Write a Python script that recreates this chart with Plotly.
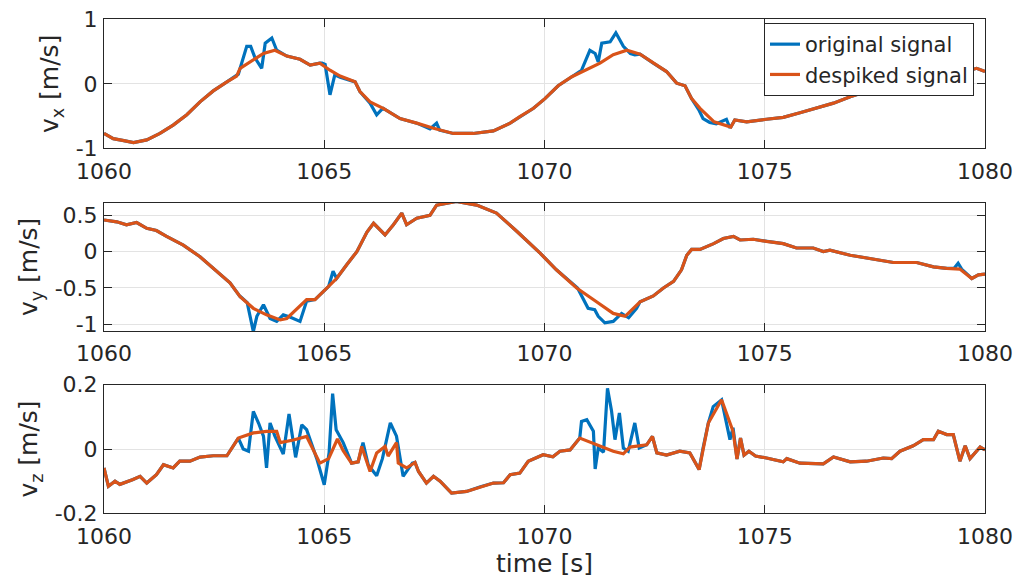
import plotly.graph_objects as go

# ---------------- data ----------------
t_vx = [1060.00, 1060.21, 1060.45, 1060.67, 1060.97, 1061.27, 1061.57, 1061.88, 1062.18, 1062.48,
        1062.79, 1063.01, 1063.09, 1063.31, 1063.62, 1063.88, 1064.15, 1064.45, 1064.68, 1064.90,
        1065.13, 1065.36, 1065.70, 1065.81, 1066.04, 1066.34, 1066.72, 1067.10, 1067.48, 1067.93,
        1068.38, 1068.84, 1069.22, 1069.44, 1069.75, 1070.01, 1070.31, 1070.62, 1070.88, 1071.26,
        1071.56, 1071.87, 1072.17, 1072.47, 1072.77, 1073.00, 1073.19, 1073.34, 1073.53, 1073.85,
        1074.23, 1074.32, 1074.59, 1075.04, 1075.42, 1075.80, 1076.18, 1076.56, 1076.94, 1077.31,
        1077.69, 1078.10, 1078.50, 1079.00, 1079.50, 1079.81, 1080.00]
vx_despiked = [-0.77, -0.85, -0.88, -0.91, -0.87, -0.77, -0.64, -0.48, -0.28, -0.11,
               0.03, 0.12, 0.24, 0.34, 0.47, 0.52, 0.43, 0.38, 0.29, 0.32,
               0.21, 0.12, 0.03, -0.12, -0.28, -0.38, -0.54, -0.61, -0.69, -0.77,
               -0.77, -0.73, -0.61, -0.51, -0.38, -0.23, -0.03, 0.11, 0.19, 0.32,
               0.45, 0.52, 0.46, 0.32, 0.19, 0.01, -0.03, -0.23, -0.38, -0.59,
               -0.67, -0.56, -0.59, -0.55, -0.52, -0.45, -0.38, -0.30, -0.20, -0.12,
               -0.02, 0.03, 0.08, 0.12, 0.18, 0.24, 0.19]
vx_spikes = [
    ([1063.05, 1063.24, 1063.33, 1063.43, 1063.58, 1063.66, 1063.81, 1063.92],
     [0.15, 0.58, 0.58, 0.40, 0.24, 0.63, 0.71, 0.52]),
    ([1064.95, 1065.02, 1065.13, 1065.24, 1065.36],
     [0.32, 0.30, -0.17, 0.14, 0.10]),
    ([1066.04, 1066.19, 1066.30], [-0.30, -0.48, -0.40]),
    ([1067.40, 1067.55, 1067.62], [-0.70, -0.61, -0.72]),
    ([1070.75, 1070.84, 1071.03, 1071.15, 1071.22, 1071.30, 1071.49, 1071.62, 1071.79, 1071.95, 1072.05],
     [0.17, 0.21, 0.52, 0.47, 0.34, 0.63, 0.65, 0.79, 0.58, 0.47, 0.45]),
    ([1073.50, 1073.60, 1073.75, 1073.90, 1074.13, 1074.20],
     [-0.40, -0.54, -0.60, -0.62, -0.55, -0.67]),
]

t_vy = [1060.00, 1060.29, 1060.51, 1060.74, 1060.97, 1061.19, 1061.42, 1061.80, 1062.18, 1062.56,
        1062.86, 1063.09, 1063.39, 1063.69, 1064.00, 1064.15, 1064.38, 1064.60, 1064.79, 1065.02,
        1065.28, 1065.51, 1065.74, 1065.97, 1066.12, 1066.38, 1066.57, 1066.76, 1066.87, 1067.10,
        1067.40, 1067.55, 1068.00, 1068.46, 1068.91, 1069.37, 1069.90, 1070.27, 1070.73, 1071.18,
        1071.56, 1071.83, 1072.17, 1072.47, 1072.70, 1072.93, 1073.11, 1073.23, 1073.34, 1073.53,
        1073.84, 1074.06, 1074.29, 1074.44, 1074.74, 1075.04, 1075.42, 1075.72, 1076.10, 1076.33,
        1076.48, 1076.94, 1077.31, 1077.92, 1078.45, 1078.83, 1079.13, 1079.43, 1079.70, 1079.85,
        1080.00]
vy_despiked = [0.435, 0.41, 0.37, 0.40, 0.32, 0.29, 0.21, 0.09, -0.07, -0.27,
               -0.43, -0.62, -0.78, -0.87, -0.94, -0.92, -0.78, -0.66, -0.66, -0.53,
               -0.37, -0.18, 0.00, 0.27, 0.39, 0.23, 0.37, 0.53, 0.37, 0.46,
               0.50, 0.64, 0.69, 0.64, 0.53, 0.28, -0.02, -0.25, -0.50, -0.69,
               -0.85, -0.89, -0.69, -0.61, -0.50, -0.41, -0.25, -0.05, 0.03, 0.03,
               0.11, 0.18, 0.21, 0.16, 0.17, 0.14, 0.11, 0.05, 0.05, 0.00,
               0.02, -0.05, -0.09, -0.15, -0.15, -0.21, -0.23, -0.24, -0.37, -0.32,
               -0.31]
vy_spikes = [
    ([1063.10, 1063.25, 1063.39, 1063.47, 1063.62, 1063.77, 1063.92, 1064.07, 1064.22, 1064.45, 1064.60],
     [-0.62, -0.70, -1.10, -0.89, -0.73, -0.92, -0.96, -0.87, -0.90, -0.96, -0.68]),
    ([1065.10, 1065.20, 1065.28], [-0.48, -0.27, -0.37]),
    ([1070.75, 1070.99, 1071.14, 1071.22, 1071.37, 1071.56, 1071.75, 1071.91, 1072.09, 1072.17],
     [-0.50, -0.78, -0.80, -0.89, -0.98, -0.96, -0.85, -0.91, -0.78, -0.69]),
    ([1079.30, 1079.39, 1079.47], [-0.23, -0.16, -0.24]),
]

t_vz = [1060.00, 1060.10, 1060.25, 1060.36, 1060.66, 1060.82, 1060.97, 1061.19, 1061.35, 1061.57,
        1061.72, 1061.95, 1062.18, 1062.48, 1062.79, 1062.90, 1063.05, 1063.39, 1063.69, 1063.92,
        1064.00, 1064.30, 1064.60, 1064.90, 1065.10, 1065.30, 1065.43, 1065.62, 1065.77, 1065.85,
        1066.04, 1066.19, 1066.38, 1066.45, 1066.64, 1066.68, 1066.87, 1067.06, 1067.14, 1067.32,
        1067.48, 1067.63, 1067.89, 1068.23, 1068.53, 1068.84, 1069.07, 1069.22, 1069.44, 1069.63,
        1069.97, 1070.19, 1070.35, 1070.58, 1070.80, 1071.18, 1071.56, 1071.79, 1071.94, 1072.32,
        1072.45, 1072.55, 1072.77, 1073.07, 1073.30, 1073.51, 1073.60, 1073.72, 1074.02, 1074.13,
        1074.28, 1074.37, 1074.45, 1074.53, 1074.64, 1074.79, 1075.04, 1075.42, 1075.50, 1075.80,
        1076.33, 1076.56, 1076.94, 1077.31, 1077.69, 1077.88, 1078.07, 1078.37, 1078.60, 1078.83,
        1078.94, 1079.13, 1079.28, 1079.43, 1079.55, 1079.66, 1079.89, 1080.00]
vz_despiked = [-0.059, -0.116, -0.100, -0.110, -0.095, -0.085, -0.106, -0.080, -0.049, -0.059,
               -0.038, -0.038, -0.025, -0.021, -0.021, 0.003, 0.034, 0.050, 0.055, 0.055,
               0.020, 0.028, 0.039, -0.044, -0.030, 0.031, -0.005, -0.044, -0.040, 0.008,
               -0.070, -0.012, 0.008, -0.022, 0.020, -0.044, -0.059, -0.042, -0.070, -0.106,
               -0.085, -0.100, -0.137, -0.132, -0.118, -0.106, -0.105, -0.080, -0.075, -0.038,
               -0.018, -0.024, -0.007, -0.003, 0.034, 0.013, -0.007, -0.015, 0.006, 0.013,
               0.039, -0.012, -0.019, -0.007, -0.012, -0.064, 0.003, 0.081, 0.153, 0.112,
               0.055, -0.031, 0.034, -0.019, -0.007, -0.022, -0.028, -0.040, -0.030, -0.044,
               -0.046, -0.025, -0.040, -0.038, -0.028, -0.030, -0.007, 0.010, 0.029, 0.029,
               0.055, 0.045, 0.045, -0.038, 0.010, -0.030, 0.006, -0.003]
vz_spikes = [
    ([1063.16, 1063.28, 1063.39, 1063.51, 1063.62, 1063.69, 1063.77, 1063.88, 1064.07, 1064.20,
      1064.35, 1064.49, 1064.60, 1064.83, 1065.00, 1065.11, 1065.19, 1065.27, 1065.43],
     [0.000, -0.007, 0.117, 0.080, 0.040, -0.059, 0.081, 0.040, -0.016, 0.109,
      -0.026, 0.075, 0.060, -0.030, -0.111, -0.012, 0.172, 0.060, 0.020]),
    ([1065.88, 1066.00, 1066.19, 1066.32, 1066.50, 1066.64, 1066.79, 1067.00],
     [0.020, -0.050, -0.083, -0.030, 0.081, 0.040, -0.085, -0.044]),
    ([1070.80, 1070.84, 1070.96, 1071.11, 1071.15, 1071.22, 1071.34, 1071.43, 1071.52, 1071.60,
      1071.70, 1071.79, 1071.90, 1072.05, 1072.15, 1072.32],
     [0.034, 0.086, 0.091, 0.055, -0.062, 0.003, -0.010, 0.189, 0.120, 0.029,
      0.112, 0.003, -0.007, 0.081, 0.003, 0.013]),
    ([1073.72, 1073.83, 1074.02, 1074.21, 1074.28, 1074.37],
     [0.081, 0.132, 0.153, 0.029, 0.066, -0.031]),
]

x_ticks = [1060, 1065, 1070, 1075, 1080]
vx_ticks, vx_ticktext = [-1, 0, 1], ["-1", "0", "1"]
vy_ticks, vy_ticktext = [-1, -0.5, 0, 0.5], ["-1", "-0.5", "0", "0.5"]
vz_ticks, vz_ticktext = [-0.2, 0, 0.2], ["-0.2", "0", "0.2"]
y_titles = ["v<sub>x</sub> [m/s]", "v<sub>y</sub> [m/s]", "v<sub>z</sub> [m/s]"]
y_ranges = [[-1, 1], [-1.092, 0.673], [-0.2, 0.2]]
x_title = "time [s]"
names = ["original signal", "despiked signal"]


def original_from(t, v, spikes):
    """Original signal = despiked signal, with the spike segments put back."""
    pts = []
    for ti, vi in zip(t, v):
        if not any(min(st) <= ti <= max(st) for st, _ in spikes):
            pts.append((ti, vi))
    for st, sv in spikes:
        pts.extend(zip(st, sv))
    pts.sort()
    return [p[0] for p in pts], [p[1] for p in pts]


BLUE = "#0072BD"
ORANGE = "#D95319"
INK = "#262626"
FONT = "DejaVu Sans"
FS_TICK = 22
FS_TITLE = 25
FS_LEG = 21

series = [(t_vx, vx_despiked, vx_spikes), (t_vy, vy_despiked, vy_spikes), (t_vz, vz_despiked, vz_spikes)]
ticks = [(vx_ticks, vx_ticktext), (vy_ticks, vy_ticktext), (vz_ticks, vz_ticktext)]

W, H = 1017, 579
x_dom = [104 / W, 985 / W]
y_px = [(19.3, 148.3), (202.7, 331.0), (384.7, 513.3)]

fig = go.Figure()
layout = dict(
    width=W, height=H, margin=dict(l=0, r=0, t=0, b=0, autoexpand=False),
    paper_bgcolor="white", plot_bgcolor="white",
    font=dict(family=FONT, size=FS_TICK, color=INK),
    showlegend=True,
    legend=dict(x=974 / W, xanchor="right", y=1 - 23 / H, yanchor="top",
                bgcolor="white", bordercolor=INK, borderwidth=1,
                font=dict(family=FONT, size=FS_LEG, color=INK), tracegroupgap=0),
)

for i, ((t, v, spikes), (tv, tt)) in enumerate(zip(series, ticks)):
    k = "" if i == 0 else str(i + 1)
    to, vo = original_from(t, v, spikes)
    fig.add_trace(go.Scatter(x=to, y=vo, mode="lines", name=names[0],
                             line=dict(color=BLUE, width=3.2), showlegend=(i == 0),
                             xaxis="x" + k, yaxis="y" + k))
    fig.add_trace(go.Scatter(x=t, y=v, mode="lines", name=names[1],
                             line=dict(color=ORANGE, width=3.2), showlegend=(i == 0),
                             xaxis="x" + k, yaxis="y" + k))
    top, bot = y_px[i]
    common = dict(showline=True, linecolor=INK, linewidth=1, mirror="ticks",
                  ticks="inside", ticklen=8, tickcolor=INK, tickwidth=1,
                  showgrid=True, gridcolor="#E3E3E3", gridwidth=1, zeroline=False,
                  automargin=False,
                  tickfont=dict(family=FONT, size=FS_TICK, color=INK))
    layout["xaxis" + k] = dict(common, domain=x_dom, range=[1060, 1080],
                               tickvals=x_ticks, ticktext=[str(x) for x in x_ticks],
                               anchor="y" + k, ticklabelstandoff=3,
                               title=dict(text=x_title if i == 2 else "", standoff=4,
                                          font=dict(family=FONT, size=FS_TITLE, color=INK)))
    layout["yaxis" + k] = dict(common, domain=[1 - bot / H, 1 - top / H], range=y_ranges[i],
                               tickvals=tv, ticktext=tt, anchor="x" + k, ticklabelstandoff=1,
                               title=dict(text=y_titles[i], standoff=9,
                                          font=dict(family=FONT, size=FS_TITLE, color=INK)))

fig.update_layout(**layout)
fig.write_html("out.html", post_script="document.body.style.margin='0';",
               config={"displayModeBar": False})
